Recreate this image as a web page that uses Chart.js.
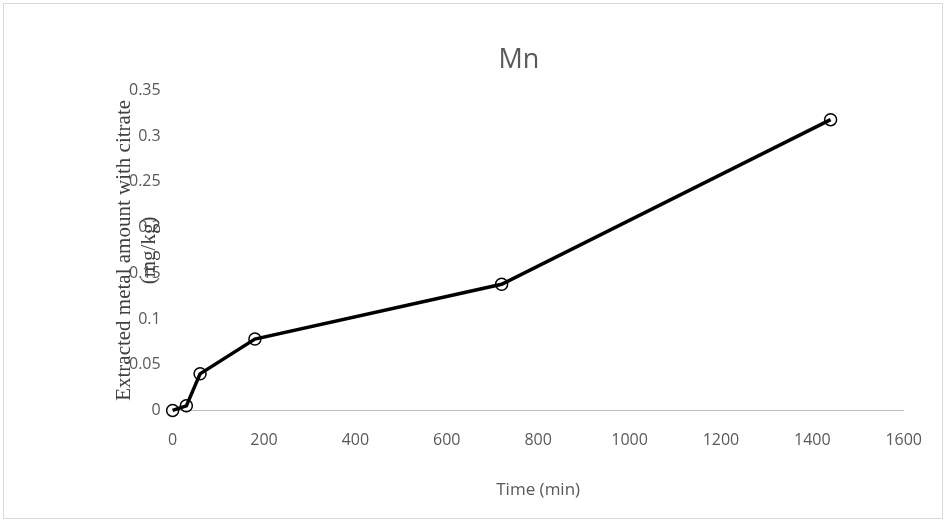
<!DOCTYPE html>
<html>
<head>
<meta charset="utf-8">
<script src="https://cdn.jsdelivr.net/npm/chart.js@4"></script>
<style>
html,body{margin:0;padding:0;background:#fff;}
#wrap{position:absolute;left:3px;top:3px;width:938px;height:514px;border:1px solid #d9d9d9;}
</style>
</head>
<body>
<div id="wrap"><canvas id="myChart" width="938" height="514"></canvas></div>
<script>
var timeMin = [0, 30, 60, 180, 720, 1440];
var mnValues = [0, 0.005, 0.04, 0.078, 0.138, 0.318];
var xTicks = [0, 200, 400, 600, 800, 1000, 1200, 1400, 1600];
var yTicks = [0, 0.05, 0.1, 0.15, 0.2, 0.25, 0.3, 0.35];
var yTickLabels = ['0', '0.05', '0.1', '0.15', '0.2', '0.25', '0.3', '0.35'];
var yTitleLines = ['Extracted metal amount with citrate', '(mg/kg)'];

var points = timeMin.map(function (t, i) { return { x: t, y: mnValues[i] }; });

// y title overlaps the tick labels in the original, so draw it by hand
var yTitlePlugin = {
    id: 'yTitle',
    afterDraw: function (chart) {
        var c = chart.ctx, a = chart.chartArea;
        var cy = (a.top + a.bottom) / 2;
        c.save();
        c.fillStyle = '#404040';
        c.font = '21px "Liberation Serif"';
        c.textAlign = 'center';
        c.textBaseline = 'middle';
        c.translate(a.left - 48, cy);
        c.rotate(-Math.PI / 2);
        c.fillText(yTitleLines[0], 0, 0);
        c.fillText(yTitleLines[1], 0, 25);
        c.restore();
    }
};

var ctx = document.getElementById('myChart');
new Chart(ctx, {
    type: 'line',
    data: {
        datasets: [{
            label: 'Mn',
            data: points,
            borderColor: '#000',
            borderWidth: 3.5,
            pointStyle: 'circle',
            pointRadius: 6,
            pointBorderWidth: 1.5,
            pointBackgroundColor: 'rgba(0,0,0,0)',
            pointBorderColor: '#000',
            tension: 0,
            clip: false
        }]
    },
    options: {
        responsive: false,
        animation: false,
        layout: { padding: { left: 113, right: 21, top: 10, bottom: 14 } },
        plugins: {
            legend: { display: false },
            title: {
                display: true, text: 'Mn', color: '#595959',
                font: { family: 'Open Sans', size: 27, weight: 'normal' }, padding: { top: 30, bottom: 14 }
            }
        },
        scales: {
            x: {
                type: 'linear', min: 0, max: 1600,
                afterBuildTicks: function (s) { s.ticks = xTicks.map(function (v) { return { value: v }; }); },
                grid: { display: false, drawTicks: false },
                border: { color: '#bfbfbf', width: 1 },
                ticks: { color: '#595959', font: { family: 'Open Sans', size: 16 }, padding: 20,
                    callback: function (v) { return String(v); } },
                title: { display: true, text: 'Time (min)', color: '#595959', font: { family: 'Open Sans', size: 17 }, padding: { top: 10 } }
            },
            y: {
                min: 0, max: 0.35,
                afterBuildTicks: function (s) { s.ticks = yTicks.map(function (v) { return { value: v }; }); },
                grid: { display: false, drawTicks: false },
                border: { display: false },
                ticks: { color: '#595959', font: { family: 'Open Sans', size: 16 }, padding: 12,
                    callback: function (v, i) { return yTickLabels[i]; } }
            }
        }
    },
    plugins: [yTitlePlugin]
});
</script>
</body>
</html>
